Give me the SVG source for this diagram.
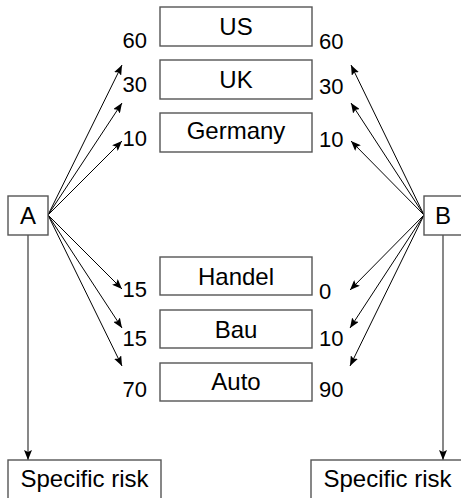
<svg xmlns="http://www.w3.org/2000/svg" width="461" height="498" viewBox="0 0 461 498">
<defs>
<style>
.box{fill:#fff;stroke:#555;stroke-width:1.4}
.t{font-family:"Liberation Sans",Arial,sans-serif;font-size:24px;fill:#000;text-anchor:middle}
.n{font-family:"Liberation Sans",Arial,sans-serif;font-size:22px;fill:#000}
.l{fill:none;stroke:#000;stroke-width:1;marker-end:url(#ah)}
.v{fill:none;stroke:#555;stroke-width:1.4;marker-end:url(#ah)}
</style>
<marker id="ah" markerUnits="userSpaceOnUse" markerWidth="10" markerHeight="8" viewBox="0 0 10 8" refX="10" refY="4" orient="auto">
<path d="M0,0 L10,4 L0,8 L2,4 Z" fill="#000"/>
</marker>
</defs>
<g id="connectors">
<line class="l" x1="48" y1="215" x2="122" y2="65"/>
<line class="l" x1="48" y1="215" x2="122" y2="103"/>
<line class="l" x1="48" y1="215" x2="122" y2="141"/>
<line class="l" x1="48" y1="215" x2="122" y2="289"/>
<line class="l" x1="48" y1="215" x2="122" y2="328"/>
<line class="l" x1="48" y1="215" x2="122" y2="366"/>
<line class="l" x1="424" y1="215" x2="351" y2="65"/>
<line class="l" x1="424" y1="215" x2="351" y2="103"/>
<line class="l" x1="424" y1="215" x2="351" y2="141"/>
<line class="l" x1="424" y1="215" x2="350" y2="290"/>
<line class="l" x1="424" y1="215" x2="350" y2="328"/>
<line class="l" x1="424" y1="215" x2="350" y2="366"/>
<line class="v" x1="28" y1="235" x2="28" y2="460"/>
<line class="v" x1="443" y1="235" x2="443" y2="460"/>
</g>
<g id="node-us"><rect class="box" x="160" y="7" width="152" height="39"/><text class="t" x="236" y="35">US</text></g>
<g id="node-uk"><rect class="box" x="160" y="60" width="152" height="39"/><text class="t" x="236" y="88">UK</text></g>
<g id="node-germany"><rect class="box" x="160" y="113" width="152" height="39"/><text class="t" x="236" y="138.5">Germany</text></g>
<g id="node-handel"><rect class="box" x="160" y="257" width="152" height="38"/><text class="t" x="236" y="285">Handel</text></g>
<g id="node-bau"><rect class="box" x="160" y="310" width="152" height="38"/><text class="t" x="236" y="337.5">Bau</text></g>
<g id="node-auto"><rect class="box" x="160" y="363" width="152" height="38"/><text class="t" x="236" y="390">Auto</text></g>
<g id="node-a"><rect class="box" x="8" y="196" width="40" height="39"/><text class="t" x="28" y="224">A</text></g>
<g id="node-b"><rect class="box" x="424" y="196" width="40" height="39"/><text class="t" x="443" y="224">B</text></g>
<g id="node-specific-left"><rect class="box" x="8" y="460" width="153" height="40"/><text class="t" x="84.5" y="487">Specific risk</text></g>
<g id="node-specific-right"><rect class="box" x="311" y="460" width="153" height="40"/><text class="t" x="387.5" y="487">Specific risk</text></g>
<g id="labels">
<text class="n" x="147" y="48" text-anchor="end">60</text>
<text class="n" x="147" y="92" text-anchor="end">30</text>
<text class="n" x="147" y="146" text-anchor="end">10</text>
<text class="n" x="147" y="296.5" text-anchor="end">15</text>
<text class="n" x="147" y="346" text-anchor="end">15</text>
<text class="n" x="147" y="396.5" text-anchor="end">70</text>
<text class="n" x="319" y="49">60</text>
<text class="n" x="319" y="93.5">30</text>
<text class="n" x="319" y="146.5">10</text>
<text class="n" x="319" y="299">0</text>
<text class="n" x="319" y="346">10</text>
<text class="n" x="319" y="396.5">90</text>
</g>
</svg>
